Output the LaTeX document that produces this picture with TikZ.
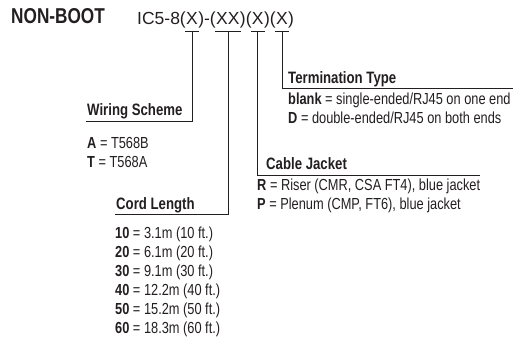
\documentclass[tikz,border=0pt]{standalone}
\usepackage{fontspec}
\setmainfont[FakeStretch=0.8]{Liberation Sans}
\newfontfamily\codefont{Liberation Sans}
\usetikzlibrary{positioning,calc}
\definecolor{ink}{HTML}{231F20}
\tikzset{
  field/.style={inner sep=0pt, font=\codefont\fontsize{17.5}{20}\selectfont},
  head/.style={inner sep=0pt, anchor=base west, font=\fontsize{16.5}{19}\selectfont\bfseries},
  entry/.style={inner sep=0pt, anchor=base west, font=\fontsize{16}{19}\selectfont},
  lead/.style={line width=0.7pt}
}
\begin{document}
\begin{tikzpicture}[x=1pt, y=-1pt, color=ink]
    \useasboundingbox (0,0) rectangle (513,363);
    % part number, one node per field
    \node[inner sep=0pt, anchor=base west, font=\fontsize{21.5}{24}\selectfont\bfseries] (title) at (11,24) {NON-BOOT};
    \node[field, anchor=base west] (pre) at (137,25) {IC5-8(};
    \node[field, base right=0pt of pre] (wire) {X};
    \node[field, base right=0pt of wire] (mid) {)-(};
    \node[field, base right=0pt of mid] (len) {XX};
    \node[field, base right=0pt of len] (gapa) {)(};
    \node[field, base right=0pt of gapa] (jack) {X};
    \node[field, base right=0pt of jack] (gapb) {)(};
    \node[field, base right=0pt of gapb] (term) {X};
    \node[field, base right=0pt of term] (post) {)};
    \foreach \f in {wire, len, jack, term}
        \draw[lead] ([xshift=-1pt, yshift=-6pt]\f.south west) -- ([xshift=1pt, yshift=-6pt]\f.south east);
    % headings
    \node[head] (wiring) at (87,116) {Wiring Scheme};
    \node[head] (cord) at (116,209) {Cord Length};
    \node[head] (cable) at (266,170) {Cable Jacket};
    \node[head] (termhd) at (288,84) {Termination Type};
    % leaders
    \draw[lead] ([yshift=-6pt]wire.south) |- ($(wiring.base west)+(-1,5)$);
    \draw[lead] ([yshift=-6pt]len.south) |- ($(cord.base west)+(-1,5)$);
    \draw[lead] ([yshift=-6pt]jack.south) |- ($(cable.base west)+(214,5)$);
    \draw[lead] ([yshift=-6pt]term.south) |- ($(termhd.base west)+(225,4)$);
    % wiring scheme
    \node[entry] (wa) at ($(wiring.base west)+(0,33)$) {\textbf{A} = T568B};
    \node[entry] (wt) at ($(wa.base west)+(0,19)$) {\textbf{T} = T568A};
    % cord length
    \foreach \n/\m [count=\i] in {10/3.1, 20/6.1, 30/9.1, 40/12.2, 50/15.2, 60/18.3}
        \node[entry] (cord\n) at ($(cord.base west)+(-1,10+19*\i)$) {\textbf{\n} = \m m (\n{} ft.)};
    % termination type
    \node[entry] (tb) at ($(termhd.base west)+(0,21)$) {\textbf{blank} = single-ended/RJ45 on one end};
    \node[entry] (td) at ($(tb.base west)+(0,19)$) {\textbf{D} = double-ended/RJ45 on both ends};
    % cable jacket
    \node[entry] (cr) at ($(cable.base west)+(-9,20)$) {\textbf{R} = Riser (CMR, CSA FT4), blue jacket};
    \node[entry] (cp) at ($(cr.base west)+(0,19)$) {\textbf{P} = Plenum (CMP, FT6), blue jacket};
\end{tikzpicture}
\end{document}
